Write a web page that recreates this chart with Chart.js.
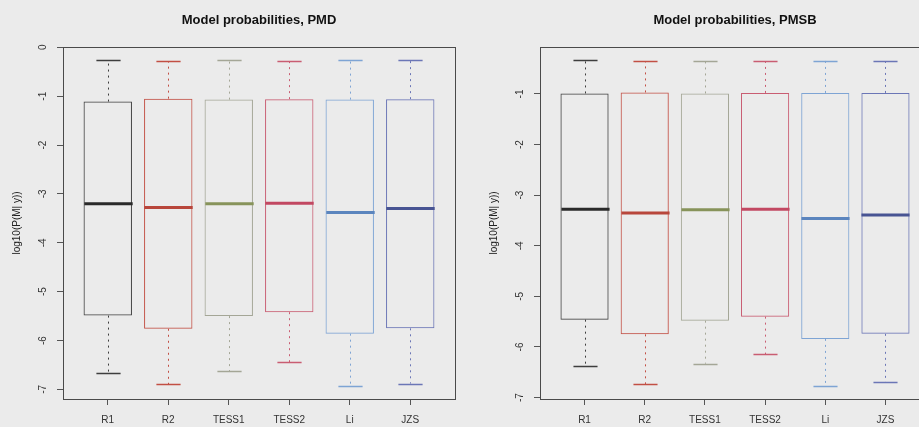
<!DOCTYPE html>
<html>
<head>
<meta charset="utf-8">
<title>Model probabilities</title>
<script src="https://cdn.jsdelivr.net/npm/chart.js@4.4.0/dist/chart.umd.min.js"></script>
<style>
  html, body { margin: 0; padding: 0; background: #ebebeb; }
  #wrap { position: relative; width: 919px; height: 427px; overflow: hidden; background: #ebebeb; }
  canvas { position: absolute; top: 0; }
  #pmd { left: 0; }
  #pmsb { left: 460px; }
</style>
</head>
<body>
<div id="wrap">
  <canvas id="pmd" width="460" height="427"></canvas>
  <canvas id="pmsb" width="480" height="427"></canvas>
</div>
<script>
// models on the x axis
const models = ['R1', 'R2', 'TESS1', 'TESS2', 'Li', 'JZS'];

// PMD: log10 model probabilities (whisker ends, quartiles, median)
const pmdLow  = [-6.66, -6.90, -6.63, -6.44, -6.93, -6.88];
const pmdQ1   = [-5.49, -5.76, -5.50, -5.42, -5.86, -5.75];
const pmdMed  = [-3.20, -3.28, -3.20, -3.19, -3.38, -3.30];
const pmdQ3   = [-1.11, -1.05, -1.07, -1.06, -1.07, -1.06];
const pmdHigh = [-0.26, -0.28, -0.26, -0.27, -0.26, -0.26];
const pmdTicks = [0, -1, -2, -3, -4, -5, -6, -7];

// PMSB
const pmsbLow  = [-6.37, -6.73, -6.33, -6.14, -6.77, -6.69];
const pmsbQ1   = [-5.46, -5.75, -5.48, -5.40, -5.84, -5.74];
const pmsbMed  = [-3.28, -3.35, -3.29, -3.28, -3.46, -3.39];
const pmsbQ3   = [-0.99, -0.97, -0.99, -0.98, -0.98, -0.98];
const pmsbHigh = [-0.33, -0.35, -0.34, -0.35, -0.34, -0.35];
const pmsbTicks = [-1, -2, -3, -4, -5, -6, -7];

const boxColors    = ['#3e3e3e', '#c24f44', '#a4a696', '#c95d72', '#7ea4d4', '#6b76b6'];
const medianColors = ['#2a2a2a', '#b8463b', '#87935a', '#c24862', '#5b85be', '#485493'];

const FONT = '"Liberation Sans", Arial, sans-serif';

// whiskers, caps, medians, frame and the R-style rotated axis text
function boxExtras(title, low, med, high) {
  return {
    id: 'boxExtras',
    afterDatasetsDraw(chart) {
      const { ctx, chartArea: a, scales: { x, y } } = chart;
      const boxHalf = x.getPixelForValue(1.4) - x.getPixelForValue(1);
      const capHalf = boxHalf / 2;
      ctx.save();
      models.forEach((m, i) => {
        const cx = Math.round(x.getPixelForValue(i + 1)) + 0.5;
        const yHi = y.getPixelForValue(high[i]);
        const yLo = y.getPixelForValue(low[i]);
        const yTop = y.getPixelForValue(chart.data.datasets[0].data[i].y[1]);
        const yBot = y.getPixelForValue(chart.data.datasets[0].data[i].y[0]);
        ctx.strokeStyle = boxColors[i];
        ctx.lineWidth = 1;
        ctx.setLineDash([2, 4]);
        ctx.beginPath();
        ctx.moveTo(cx, yTop); ctx.lineTo(cx, yHi);
        ctx.moveTo(cx, yBot); ctx.lineTo(cx, yLo);
        ctx.stroke();
        ctx.setLineDash([]);
        ctx.lineWidth = 1.5;
        ctx.beginPath();
        ctx.moveTo(cx - capHalf, Math.round(yHi) + 0.5); ctx.lineTo(cx + capHalf, Math.round(yHi) + 0.5);
        ctx.moveTo(cx - capHalf, Math.round(yLo) + 0.5); ctx.lineTo(cx + capHalf, Math.round(yLo) + 0.5);
        ctx.stroke();
        const yMed = y.getPixelForValue(med[i]);
        ctx.strokeStyle = medianColors[i];
        ctx.lineWidth = 3;
        ctx.beginPath();
        ctx.moveTo(cx - boxHalf, yMed); ctx.lineTo(cx + boxHalf, yMed);
        ctx.stroke();
      });

      ctx.strokeStyle = '#4a4a4a';
      ctx.lineWidth = 1;
      ctx.strokeRect(Math.round(a.left) + 0.5, Math.round(a.top) + 0.5, Math.round(a.width), Math.round(a.height));

      ctx.fillStyle = '#333';
      ctx.font = '10px ' + FONT;
      ctx.textAlign = 'center';
      ctx.textBaseline = 'middle';
      y.ticks.forEach(t => {
        ctx.save();
        ctx.translate(a.left - 20, y.getPixelForValue(t.value));
        ctx.rotate(-Math.PI / 2);
        ctx.fillText(String(t.value), 0, 0);
        ctx.restore();
      });

      ctx.save();
      ctx.translate(a.left - 46, (a.top + a.bottom) / 2);
      ctx.rotate(-Math.PI / 2);
      ctx.fillStyle = '#222';
      ctx.fillText('log10(P(M| y))', 0, 0);
      ctx.restore();

      ctx.fillStyle = '#111';
      ctx.font = 'bold 13px ' + FONT;
      ctx.fillText(title, (a.left + a.right) / 2, 20);
      ctx.restore();
    }
  };
}

function makeBoxChart(id, title, low, q1, med, q3, high, yTicks, axisWidth, rightPad, topPad) {
  const lo = Math.min(...low);
  const hi = Math.max(...high);
  const pad = (hi - lo) * 0.04;
  return new Chart(document.getElementById(id), {
    type: 'bar',
    data: {
      datasets: [{
        data: models.map((m, i) => ({ x: i + 1, y: [q1[i], q3[i]] })),
        backgroundColor: 'rgba(0,0,0,0)',
        borderColor: boxColors,
        borderWidth: 1,
        borderSkipped: false,
        barPercentage: 0.8,
        categoryPercentage: 1
      }]
    },
    options: {
      responsive: false,
      animation: false,
      layout: { padding: { top: topPad, right: rightPad, left: 0, bottom: 0 } },
      plugins: { legend: { display: false }, tooltip: { enabled: false } },
      scales: {
        x: {
          type: 'linear',
          min: 0.26,
          max: 6.74,
          offset: false,
          afterBuildTicks: s => { s.ticks = models.map((m, i) => ({ value: i + 1 })); },
          afterFit: s => { s.height = 28; },
          ticks: {
            callback: v => models[v - 1],
            autoSkip: false,
            maxRotation: 0,
            padding: 9,
            color: '#333',
            font: { family: FONT, size: 10 }
          },
          grid: { offset: false, drawOnChartArea: false, tickLength: 6, tickColor: '#555' },
          border: { display: false }
        },
        y: {
          min: lo - pad,
          max: hi + pad,
          beginAtZero: false,
          afterBuildTicks: s => { s.ticks = yTicks.map(v => ({ value: v })); },
          afterFit: s => { s.width = axisWidth; },
          ticks: { display: false },
          grid: { drawOnChartArea: false, tickLength: 6, tickColor: '#555' },
          border: { display: false }
        }
      }
    },
    plugins: [boxExtras(title, low, med, high)]
  });
}

makeBoxChart('pmd', 'Model probabilities, PMD', pmdLow, pmdQ1, pmdMed, pmdQ3, pmdHigh, pmdTicks, 63, 5, 47);
makeBoxChart('pmsb', 'Model probabilities, PMSB', pmsbLow, pmsbQ1, pmsbMed, pmsbQ3, pmsbHigh, pmsbTicks, 80, 10, 47);
</script>
</body>
</html>
